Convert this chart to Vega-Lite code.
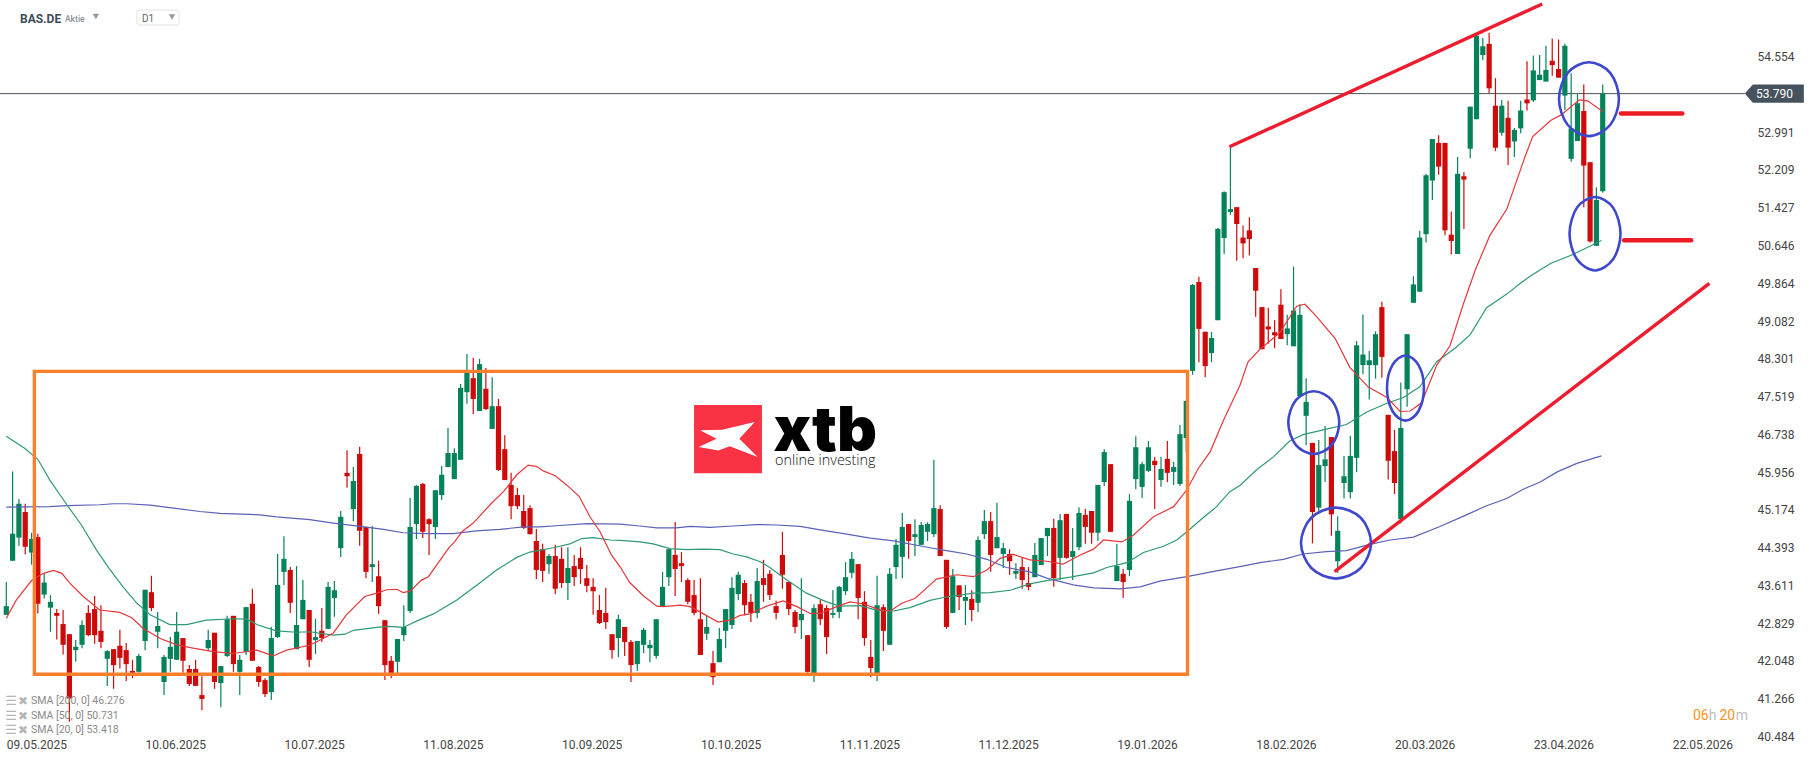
{
  "$schema": "https://vega.github.io/schema/vega-lite/v6.json",
  "description": "BAS.DE daily candles with SMA 20/50/200 and drawn annotations",
  "width": 1816,
  "height": 761,
  "padding": 0,
  "autosize": "none",
  "background": "white",
  "config": {"view": {"stroke": null}, "font": "Roboto"},
  "datasets": {
    "candles": [
      {"bar":0,"open":43.00,"high":43.68,"low":43.00,"close":43.18},
      {"bar":1,"open":44.12,"high":45.97,"low":44.12,"close":44.68},
      {"bar":2,"open":44.60,"high":45.40,"low":44.43,"close":45.30},
      {"bar":3,"open":45.13,"high":45.30,"low":44.25,"close":44.41},
      {"bar":4,"open":44.29,"high":44.70,"low":44.04,"close":44.57},
      {"bar":5,"open":44.61,"high":44.68,"low":43.03,"close":43.23},
      {"bar":6,"open":43.42,"high":43.85,"low":43.34,"close":43.67},
      {"bar":7,"open":43.15,"high":43.41,"low":42.65,"close":43.27},
      {"bar":8,"open":43.04,"high":43.12,"low":42.49,"close":42.98},
      {"bar":9,"open":42.81,"high":43.10,"low":42.18,"close":42.38},
      {"bar":10,"open":42.60,"high":42.60,"low":40.79,"close":41.27},
      {"bar":11,"open":42.27,"high":42.48,"low":42.03,"close":42.34},
      {"bar":12,"open":42.38,"high":42.89,"low":42.31,"close":42.79},
      {"bar":13,"open":43.04,"high":43.20,"low":42.56,"close":42.58},
      {"bar":14,"open":43.12,"high":43.39,"low":42.40,"close":42.58},
      {"bar":15,"open":42.67,"high":43.20,"low":42.31,"close":42.44},
      {"bar":16,"open":42.09,"high":42.27,"low":41.53,"close":42.25},
      {"bar":17,"open":42.29,"high":42.29,"low":41.47,"close":41.96},
      {"bar":18,"open":42.36,"high":42.69,"low":41.89,"close":42.11},
      {"bar":19,"open":42.27,"high":42.42,"low":41.63,"close":41.98},
      {"bar":20,"open":41.84,"high":42.07,"low":41.69,"close":41.80},
      {"bar":21,"open":41.82,"high":42.19,"low":41.80,"close":42.15},
      {"bar":22,"open":42.46,"high":43.52,"low":42.27,"close":43.52},
      {"bar":23,"open":43.47,"high":43.81,"low":43.08,"close":43.14},
      {"bar":24,"open":42.65,"high":43.06,"low":42.31,"close":42.77},
      {"bar":25,"open":41.61,"high":42.17,"low":41.34,"close":42.13},
      {"bar":26,"open":42.09,"high":42.54,"low":41.82,"close":42.34},
      {"bar":27,"open":42.07,"high":43.06,"low":42.07,"close":42.65},
      {"bar":28,"open":42.52,"high":42.52,"low":41.80,"close":42.05},
      {"bar":29,"open":41.88,"high":41.96,"low":41.53,"close":41.57},
      {"bar":30,"open":41.88,"high":42.07,"low":41.53,"close":41.53},
      {"bar":31,"open":41.34,"high":41.73,"low":41.03,"close":41.26},
      {"bar":32,"open":42.31,"high":42.69,"low":42.25,"close":42.48},
      {"bar":33,"open":42.63,"high":42.63,"low":41.47,"close":41.61},
      {"bar":34,"open":41.59,"high":41.94,"low":41.09,"close":41.94},
      {"bar":35,"open":42.15,"high":42.98,"low":42.13,"close":42.91},
      {"bar":36,"open":42.98,"high":42.98,"low":41.82,"close":41.98},
      {"bar":37,"open":41.82,"high":42.17,"low":41.34,"close":42.07},
      {"bar":38,"open":42.23,"high":43.16,"low":42.17,"close":43.16},
      {"bar":39,"open":43.23,"high":43.54,"low":42.05,"close":42.05},
      {"bar":40,"open":41.92,"high":41.94,"low":41.51,"close":41.61},
      {"bar":41,"open":41.65,"high":41.69,"low":41.30,"close":41.36},
      {"bar":42,"open":41.40,"high":42.75,"low":41.24,"close":42.52},
      {"bar":43,"open":42.54,"high":44.26,"low":42.52,"close":43.62},
      {"bar":44,"open":43.89,"high":44.63,"low":43.62,"close":44.16},
      {"bar":45,"open":43.93,"high":43.99,"low":43.04,"close":43.25},
      {"bar":46,"open":42.29,"high":44.01,"low":42.29,"close":42.79},
      {"bar":47,"open":42.91,"high":43.72,"low":42.91,"close":43.31},
      {"bar":48,"open":43.10,"high":43.10,"low":41.92,"close":42.07},
      {"bar":49,"open":42.48,"high":42.92,"low":42.19,"close":42.54},
      {"bar":50,"open":42.67,"high":43.14,"low":42.44,"close":42.52},
      {"bar":51,"open":42.71,"high":43.68,"low":42.71,"close":43.58},
      {"bar":52,"open":43.35,"high":43.70,"low":42.96,"close":43.51},
      {"bar":53,"open":44.38,"high":45.15,"low":44.20,"close":45.03},
      {"bar":54,"open":45.94,"high":46.41,"low":45.63,"close":45.87},
      {"bar":55,"open":45.19,"high":46.06,"low":44.94,"close":45.77},
      {"bar":56,"open":46.33,"high":46.48,"low":44.43,"close":44.74},
      {"bar":57,"open":44.82,"high":44.82,"low":43.76,"close":43.89},
      {"bar":58,"open":43.99,"high":44.84,"low":43.68,"close":44.05},
      {"bar":59,"open":43.80,"high":44.12,"low":43.02,"close":43.18},
      {"bar":60,"open":42.89,"high":42.89,"low":41.65,"close":41.96},
      {"bar":61,"open":42.05,"high":42.15,"low":41.69,"close":41.78},
      {"bar":62,"open":42.03,"high":42.50,"low":41.79,"close":42.50},
      {"bar":63,"open":42.58,"high":43.20,"low":42.46,"close":42.75},
      {"bar":64,"open":43.08,"high":45.42,"low":43.04,"close":44.82},
      {"bar":65,"open":44.88,"high":45.69,"low":44.57,"close":45.67},
      {"bar":66,"open":45.71,"high":45.73,"low":44.59,"close":44.72},
      {"bar":67,"open":44.98,"high":45.00,"low":44.24,"close":44.88},
      {"bar":68,"open":44.82,"high":45.58,"low":44.57,"close":45.58},
      {"bar":69,"open":45.48,"high":46.08,"low":45.38,"close":45.90},
      {"bar":70,"open":46.06,"high":46.87,"low":46.06,"close":46.35},
      {"bar":71,"open":45.81,"high":46.45,"low":45.81,"close":46.35},
      {"bar":72,"open":46.21,"high":47.78,"low":46.21,"close":47.70},
      {"bar":73,"open":47.61,"high":48.40,"low":47.37,"close":48.02},
      {"bar":74,"open":47.90,"high":48.32,"low":47.16,"close":47.47},
      {"bar":75,"open":47.22,"high":48.30,"low":47.22,"close":48.19},
      {"bar":76,"open":47.68,"high":48.11,"low":47.24,"close":47.26},
      {"bar":77,"open":46.85,"high":47.92,"low":46.85,"close":47.32},
      {"bar":78,"open":47.32,"high":47.47,"low":45.98,"close":46.00},
      {"bar":79,"open":46.43,"high":46.72,"low":45.79,"close":45.79},
      {"bar":80,"open":45.69,"high":45.94,"low":44.98,"close":45.25},
      {"bar":81,"open":45.48,"high":45.63,"low":45.19,"close":45.25},
      {"bar":82,"open":45.15,"high":45.48,"low":44.78,"close":44.80},
      {"bar":83,"open":45.21,"high":45.27,"low":44.67,"close":44.67},
      {"bar":84,"open":44.53,"high":44.78,"low":43.74,"close":43.93},
      {"bar":85,"open":44.36,"high":44.47,"low":43.68,"close":43.91},
      {"bar":86,"open":44.05,"high":44.26,"low":43.85,"close":44.22},
      {"bar":87,"open":44.22,"high":44.45,"low":43.43,"close":43.54},
      {"bar":88,"open":44.16,"high":44.40,"low":43.56,"close":43.66},
      {"bar":89,"open":43.66,"high":44.40,"low":43.31,"close":43.97},
      {"bar":90,"open":44.01,"high":44.24,"low":43.60,"close":43.78},
      {"bar":91,"open":44.18,"high":44.40,"low":43.64,"close":43.95},
      {"bar":92,"open":43.76,"high":44.03,"low":43.47,"close":43.60},
      {"bar":93,"open":43.58,"high":43.76,"low":43.00,"close":43.49},
      {"bar":94,"open":43.10,"high":43.41,"low":42.81,"close":42.83},
      {"bar":95,"open":43.04,"high":43.56,"low":42.71,"close":42.85},
      {"bar":96,"open":42.60,"high":42.60,"low":42.09,"close":42.27},
      {"bar":97,"open":42.52,"high":43.00,"low":42.13,"close":42.91},
      {"bar":98,"open":42.75,"high":42.75,"low":42.15,"close":42.44},
      {"bar":99,"open":42.44,"high":42.48,"low":41.61,"close":41.96},
      {"bar":100,"open":41.98,"high":42.46,"low":41.84,"close":42.46},
      {"bar":101,"open":42.38,"high":42.73,"low":42.21,"close":42.69},
      {"bar":102,"open":42.31,"high":42.48,"low":42.02,"close":42.38},
      {"bar":103,"open":42.15,"high":42.91,"low":42.09,"close":42.91},
      {"bar":104,"open":43.18,"high":43.89,"low":43.18,"close":43.58},
      {"bar":105,"open":43.78,"high":44.36,"low":43.60,"close":44.36},
      {"bar":106,"open":44.24,"high":44.92,"low":43.39,"close":43.95},
      {"bar":107,"open":44.07,"high":44.30,"low":43.68,"close":44.01},
      {"bar":108,"open":43.72,"high":43.76,"low":43.22,"close":43.27},
      {"bar":109,"open":43.41,"high":43.72,"low":42.99,"close":43.04},
      {"bar":110,"open":42.91,"high":43.76,"low":42.17,"close":42.17},
      {"bar":111,"open":42.61,"high":42.99,"low":42.48,"close":42.75},
      {"bar":112,"open":42.00,"high":42.25,"low":41.55,"close":41.71},
      {"bar":113,"open":42.02,"high":42.73,"low":42.02,"close":42.50},
      {"bar":114,"open":42.67,"high":43.12,"low":42.31,"close":43.12},
      {"bar":115,"open":42.79,"high":43.78,"low":42.71,"close":43.56},
      {"bar":116,"open":43.43,"high":43.89,"low":43.31,"close":43.83},
      {"bar":117,"open":43.66,"high":43.72,"low":42.99,"close":43.20},
      {"bar":118,"open":43.27,"high":43.43,"low":42.85,"close":43.04},
      {"bar":119,"open":43.04,"high":43.97,"low":42.93,"close":43.70},
      {"bar":120,"open":43.76,"high":44.14,"low":43.27,"close":43.62},
      {"bar":121,"open":43.85,"high":43.93,"low":43.31,"close":43.41},
      {"bar":122,"open":43.18,"high":43.29,"low":42.91,"close":43.04},
      {"bar":123,"open":44.24,"high":44.72,"low":43.54,"close":43.83},
      {"bar":124,"open":43.68,"high":43.68,"low":42.99,"close":43.12},
      {"bar":125,"open":43.06,"high":43.10,"low":42.62,"close":42.75},
      {"bar":126,"open":42.89,"high":43.76,"low":42.50,"close":43.02},
      {"bar":127,"open":42.58,"high":42.58,"low":41.80,"close":41.82},
      {"bar":128,"open":41.79,"high":43.22,"low":41.61,"close":43.14},
      {"bar":129,"open":43.22,"high":43.31,"low":42.79,"close":42.91},
      {"bar":130,"open":43.14,"high":43.20,"low":42.19,"close":42.54},
      {"bar":131,"open":43.00,"high":43.51,"low":42.93,"close":43.04},
      {"bar":132,"open":43.06,"high":43.60,"low":42.93,"close":43.58},
      {"bar":133,"open":43.49,"high":44.09,"low":43.41,"close":43.78},
      {"bar":134,"open":43.87,"high":44.30,"low":43.76,"close":44.16},
      {"bar":135,"open":44.05,"high":44.05,"low":42.91,"close":43.35},
      {"bar":136,"open":43.27,"high":43.49,"low":42.36,"close":42.52},
      {"bar":137,"open":42.13,"high":42.48,"low":41.71,"close":41.90},
      {"bar":138,"open":41.79,"high":43.81,"low":41.63,"close":43.20},
      {"bar":139,"open":43.16,"high":43.22,"low":42.25,"close":42.67},
      {"bar":140,"open":42.38,"high":43.97,"low":42.38,"close":43.85},
      {"bar":141,"open":43.99,"high":44.57,"low":43.74,"close":44.45},
      {"bar":142,"open":44.20,"high":45.11,"low":43.76,"close":44.82},
      {"bar":143,"open":44.88,"high":44.88,"low":44.16,"close":44.53},
      {"bar":144,"open":44.61,"high":44.98,"low":44.22,"close":44.67},
      {"bar":145,"open":44.45,"high":44.92,"low":44.45,"close":44.86},
      {"bar":146,"open":44.72,"high":44.92,"low":44.53,"close":44.88},
      {"bar":147,"open":44.67,"high":46.21,"low":44.61,"close":45.21},
      {"bar":148,"open":45.19,"high":45.27,"low":44.22,"close":44.22},
      {"bar":149,"open":44.14,"high":44.14,"low":42.71,"close":42.75},
      {"bar":150,"open":43.04,"high":43.95,"low":43.04,"close":43.80},
      {"bar":151,"open":43.61,"high":43.61,"low":43.10,"close":43.37},
      {"bar":152,"open":43.29,"high":43.62,"low":42.79,"close":43.37},
      {"bar":153,"open":43.33,"high":43.51,"low":42.87,"close":43.10},
      {"bar":154,"open":43.25,"high":44.63,"low":43.06,"close":44.55},
      {"bar":155,"open":44.67,"high":45.17,"low":44.57,"close":44.94},
      {"bar":156,"open":44.94,"high":45.13,"low":43.89,"close":44.24},
      {"bar":157,"open":44.38,"high":45.32,"low":44.38,"close":44.61},
      {"bar":158,"open":44.26,"high":44.49,"low":43.97,"close":44.38},
      {"bar":159,"open":44.26,"high":44.36,"low":43.83,"close":44.11},
      {"bar":160,"open":43.85,"high":44.07,"low":43.74,"close":43.91},
      {"bar":161,"open":43.99,"high":44.18,"low":43.54,"close":43.72},
      {"bar":162,"open":43.66,"high":43.99,"low":43.51,"close":43.58},
      {"bar":163,"open":43.78,"high":44.49,"low":43.78,"close":44.24},
      {"bar":164,"open":44.03,"high":44.59,"low":44.03,"close":44.59},
      {"bar":165,"open":44.63,"high":44.80,"low":44.22,"close":44.80},
      {"bar":166,"open":44.80,"high":44.99,"low":43.58,"close":43.76},
      {"bar":167,"open":44.18,"high":45.09,"low":43.72,"close":44.96},
      {"bar":168,"open":45.09,"high":45.09,"low":44.16,"close":44.18},
      {"bar":169,"open":44.20,"high":44.80,"low":43.72,"close":44.32},
      {"bar":170,"open":44.40,"high":45.23,"low":44.34,"close":45.11},
      {"bar":171,"open":45.07,"high":45.19,"low":44.47,"close":44.82},
      {"bar":172,"open":45.15,"high":45.15,"low":44.47,"close":44.70},
      {"bar":173,"open":44.70,"high":45.69,"low":44.53,"close":45.69},
      {"bar":174,"open":45.75,"high":46.43,"low":45.67,"close":46.37},
      {"bar":175,"open":46.12,"high":46.12,"low":44.72,"close":44.72},
      {"bar":176,"open":43.70,"high":44.47,"low":43.70,"close":44.01},
      {"bar":177,"open":43.85,"high":43.95,"low":43.35,"close":43.68},
      {"bar":178,"open":43.93,"high":45.50,"low":43.80,"close":45.36},
      {"bar":179,"open":45.81,"high":46.70,"low":45.60,"close":46.47},
      {"bar":180,"open":45.65,"high":46.17,"low":45.42,"close":46.12},
      {"bar":181,"open":45.98,"high":46.60,"low":45.96,"close":46.47},
      {"bar":182,"open":46.19,"high":46.27,"low":45.19,"close":46.10},
      {"bar":183,"open":45.79,"high":46.27,"low":45.65,"close":46.02},
      {"bar":184,"open":46.23,"high":46.60,"low":45.75,"close":45.94},
      {"bar":185,"open":45.96,"high":46.17,"low":45.69,"close":46.06},
      {"bar":186,"open":45.71,"high":46.93,"low":45.67,"close":46.74},
      {"bar":187,"open":46.66,"high":47.43,"low":46.37,"close":47.43},
      {"bar":188,"open":48.05,"high":49.85,"low":47.97,"close":49.83},
      {"bar":189,"open":49.89,"high":50.00,"low":48.23,"close":48.92},
      {"bar":190,"open":48.86,"high":48.86,"low":47.92,"close":48.15},
      {"bar":191,"open":48.42,"high":48.86,"low":48.23,"close":48.73},
      {"bar":192,"open":49.10,"high":51.01,"low":49.10,"close":50.99},
      {"bar":193,"open":50.80,"high":51.77,"low":50.47,"close":51.75},
      {"bar":194,"open":51.34,"high":52.69,"low":51.28,"close":51.40},
      {"bar":195,"open":51.44,"high":51.44,"low":50.33,"close":51.09},
      {"bar":196,"open":50.81,"high":51.06,"low":50.38,"close":50.69},
      {"bar":197,"open":50.96,"high":51.23,"low":50.44,"close":50.78},
      {"bar":198,"open":50.18,"high":50.18,"low":49.17,"close":49.71},
      {"bar":199,"open":49.37,"high":49.37,"low":48.50,"close":48.50},
      {"bar":200,"open":48.97,"high":49.36,"low":48.61,"close":48.91},
      {"bar":201,"open":48.85,"high":49.10,"low":48.52,"close":48.79},
      {"bar":202,"open":49.42,"high":49.74,"low":48.71,"close":48.71},
      {"bar":203,"open":48.81,"high":49.21,"low":48.58,"close":48.93},
      {"bar":204,"open":48.56,"high":50.21,"low":48.56,"close":49.30},
      {"bar":205,"open":47.53,"high":49.43,"low":47.53,"close":49.21},
      {"bar":206,"open":47.12,"high":47.90,"low":46.51,"close":47.41},
      {"bar":207,"open":46.56,"high":46.56,"low":44.48,"close":45.13},
      {"bar":208,"open":45.22,"high":46.62,"low":45.11,"close":46.10},
      {"bar":209,"open":46.08,"high":46.91,"low":45.75,"close":46.22},
      {"bar":210,"open":46.68,"high":46.68,"low":44.64,"close":45.08},
      {"bar":211,"open":44.11,"high":45.04,"low":43.87,"close":44.74},
      {"bar":212,"open":45.73,"high":46.29,"low":45.41,"close":45.87},
      {"bar":213,"open":45.54,"high":46.71,"low":45.41,"close":46.29},
      {"bar":214,"open":46.25,"high":48.67,"low":45.95,"close":48.58},
      {"bar":215,"open":48.17,"high":49.22,"low":47.98,"close":48.39},
      {"bar":216,"open":48.17,"high":48.46,"low":47.46,"close":48.27},
      {"bar":217,"open":48.17,"high":48.87,"low":47.89,"close":48.81},
      {"bar":218,"open":49.37,"high":49.48,"low":47.91,"close":48.34},
      {"bar":219,"open":47.14,"high":47.14,"low":45.80,"close":46.19},
      {"bar":220,"open":46.39,"high":46.83,"low":45.50,"close":45.73},
      {"bar":221,"open":44.98,"high":47.81,"low":44.89,"close":46.87},
      {"bar":222,"open":47.67,"high":48.81,"low":47.31,"close":48.81},
      {"bar":223,"open":49.46,"high":50.01,"low":49.46,"close":49.84},
      {"bar":224,"open":49.69,"high":50.95,"low":49.69,"close":50.81},
      {"bar":225,"open":50.88,"high":52.13,"low":50.71,"close":52.10},
      {"bar":226,"open":51.99,"high":52.85,"low":51.59,"close":52.85},
      {"bar":227,"open":52.77,"high":52.93,"low":52.11,"close":52.28},
      {"bar":228,"open":52.77,"high":52.77,"low":50.86,"close":50.96},
      {"bar":229,"open":50.87,"high":51.35,"low":50.46,"close":50.74},
      {"bar":230,"open":50.47,"high":52.48,"low":50.47,"close":52.13},
      {"bar":231,"open":52.08,"high":52.16,"low":50.99,"close":52.01},
      {"bar":232,"open":52.65,"high":53.52,"low":52.45,"close":53.52},
      {"bar":233,"open":53.26,"high":55.03,"low":53.26,"close":54.99},
      {"bar":234,"open":54.59,"high":54.94,"low":54.48,"close":54.77},
      {"bar":235,"open":54.82,"high":55.05,"low":53.80,"close":53.90},
      {"bar":236,"open":53.54,"high":54.11,"low":52.60,"close":52.67},
      {"bar":237,"open":52.98,"high":53.66,"low":52.92,"close":53.54},
      {"bar":238,"open":53.29,"high":53.64,"low":52.31,"close":52.67},
      {"bar":239,"open":52.80,"high":53.08,"low":52.48,"close":53.04},
      {"bar":240,"open":53.07,"high":53.64,"low":52.97,"close":53.44},
      {"bar":241,"open":53.67,"high":54.46,"low":53.44,"close":53.59},
      {"bar":242,"open":53.65,"high":54.58,"low":53.62,"close":54.27},
      {"bar":243,"open":54.07,"high":54.59,"low":54.07,"close":54.18},
      {"bar":244,"open":54.04,"high":54.78,"low":54.04,"close":54.28},
      {"bar":245,"open":54.47,"high":54.93,"low":54.16,"close":54.38},
      {"bar":246,"open":54.30,"high":54.91,"low":54.12,"close":54.12},
      {"bar":247,"open":53.75,"high":54.82,"low":53.45,"close":54.78},
      {"bar":248,"open":52.44,"high":54.21,"low":52.38,"close":53.07},
      {"bar":249,"open":52.81,"high":53.78,"low":52.81,"close":53.59},
      {"bar":250,"open":53.43,"high":53.98,"low":51.44,"close":52.30},
      {"bar":251,"open":52.37,"high":52.37,"low":50.71,"close":50.73},
      {"bar":252,"open":50.64,"high":51.85,"low":50.64,"close":51.59},
      {"bar":253,"open":51.77,"high":53.98,"low":51.74,"close":53.79}
    ],
    "sma200": [
      {"bar":0,"price":45.23},{"bar":6.9,"price":45.24},{"bar":9.6,"price":45.26},{"bar":14.8,"price":45.28},{"bar":17,"price":45.30},{"bar":19.1,"price":45.30},{"bar":22.8,"price":45.27},{"bar":25.9,"price":45.22},{"bar":30.7,"price":45.14},{"bar":33.9,"price":45.10},{"bar":40.2,"price":45.07},{"bar":42.8,"price":45.03},{"bar":48.1,"price":44.97},
      {"bar":51.8,"price":44.90},{"bar":56.1,"price":44.83},{"bar":59.8,"price":44.77},{"bar":62.9,"price":44.70},{"bar":66.6,"price":44.68},{"bar":70.8,"price":44.68},{"bar":74.5,"price":44.74},{"bar":78.2,"price":44.77},{"bar":81.9,"price":44.82},{"bar":84.6,"price":44.82},{"bar":87.7,"price":44.85},{"bar":92,"price":44.89},{"bar":97.3,"price":44.88},
      {"bar":100.4,"price":44.84},{"bar":103.1,"price":44.80},{"bar":106.2,"price":44.80},{"bar":108.4,"price":44.83},{"bar":111.5,"price":44.81},{"bar":115.2,"price":44.84},{"bar":118.9,"price":44.87},{"bar":122.1,"price":44.86},{"bar":125.8,"price":44.83},{"bar":129,"price":44.76},{"bar":133.2,"price":44.67},{"bar":136.9,"price":44.59},{"bar":140.6,"price":44.53},{"bar":146.4,"price":44.39},
      {"bar":149,"price":44.33},{"bar":152.2,"price":44.26},{"bar":155.4,"price":44.15},{"bar":158.5,"price":43.98},{"bar":162.2,"price":43.89},{"bar":164.9,"price":43.76},{"bar":169.1,"price":43.62},{"bar":172.3,"price":43.56},{"bar":176.5,"price":43.54},{"bar":179.7,"price":43.58},{"bar":182.8,"price":43.70},{"bar":187.1,"price":43.79},{"bar":191.8,"price":43.91},{"bar":195.5,"price":44.00},
      {"bar":198.7,"price":44.08},{"bar":202.4,"price":44.15},{"bar":205.5,"price":44.26},{"bar":209.2,"price":44.31},{"bar":212.4,"price":44.33},{"bar":216.1,"price":44.46},{"bar":219.3,"price":44.55},{"bar":223,"price":44.61},{"bar":227.2,"price":44.83},{"bar":231.4,"price":45.07},{"bar":234.6,"price":45.26},{"bar":237.8,"price":45.41},{"bar":240.4,"price":45.60},{"bar":243.1,"price":45.75},{"bar":245.8,"price":45.96},{"bar":249,"price":46.14},{"bar":252.8,"price":46.29}
    ],
    "sma50": [
      {"bar":0,"price":46.70},{"bar":2.9,"price":46.45},{"bar":5,"price":46.22},{"bar":6.9,"price":45.79},{"bar":9.6,"price":45.28},{"bar":11.9,"price":44.86},{"bar":14.3,"price":44.34},{"bar":16.4,"price":43.94},{"bar":18.5,"price":43.58},{"bar":20.7,"price":43.24},{"bar":22.8,"price":43.00},{"bar":25.9,"price":42.80},{"bar":28.6,"price":42.80},{"bar":31.7,"price":42.89},{"bar":36,"price":42.92},{"bar":38.1,"price":42.91},{"bar":39.9,"price":42.79},{"bar":42.8,"price":42.67},{"bar":46,"price":42.64},{"bar":48.1,"price":42.65},
      {"bar":51.8,"price":42.58},{"bar":53.7,"price":42.60},{"bar":55,"price":42.68},{"bar":58.7,"price":42.74},{"bar":60.8,"price":42.76},{"bar":62.9,"price":42.74},{"bar":65,"price":42.87},{"bar":67.7,"price":43.02},{"bar":71.4,"price":43.31},{"bar":74.5,"price":43.61},{"bar":77.7,"price":43.93},{"bar":80.9,"price":44.19},{"bar":83,"price":44.30},{"bar":86.7,"price":44.39},{"bar":89.3,"price":44.47},{"bar":91.2,"price":44.58},{"bar":93,"price":44.60},{"bar":95.7,"price":44.55},{"bar":97.3,"price":44.54},
      {"bar":100.4,"price":44.51},{"bar":102.5,"price":44.47},{"bar":105.2,"price":44.37},{"bar":107.8,"price":44.35},{"bar":110.5,"price":44.36},{"bar":113.1,"price":44.35},{"bar":115.2,"price":44.26},{"bar":117.3,"price":44.20},{"bar":119.5,"price":44.10},{"bar":121,"price":43.98},{"bar":123.7,"price":43.72},{"bar":126.8,"price":43.45},{"bar":130,"price":43.27},{"bar":132.1,"price":43.18},{"bar":135.3,"price":43.19},{"bar":137.9,"price":43.10},{"bar":140.6,"price":43.08},{"bar":143.2,"price":43.15},{"bar":146.4,"price":43.30},
      {"bar":148.5,"price":43.36},{"bar":153.3,"price":43.45},{"bar":155.9,"price":43.46},{"bar":159.1,"price":43.51},{"bar":162.2,"price":43.64},{"bar":164.9,"price":43.71},{"bar":168.6,"price":43.78},{"bar":172.3,"price":43.87},{"bar":174.4,"price":43.98},{"bar":177.6,"price":44.08},{"bar":180.2,"price":44.29},{"bar":183.4,"price":44.42},{"bar":185.5,"price":44.55},{"bar":187.1,"price":44.72},{"bar":189.2,"price":44.96},{"bar":191.8,"price":45.24},{"bar":193.9,"price":45.55},{"bar":195.5,"price":45.68},
      {"bar":198.2,"price":46.01},{"bar":200.8,"price":46.27},{"bar":203.4,"price":46.60},{"bar":205.5,"price":46.73},{"bar":208.7,"price":46.83},{"bar":212.4,"price":46.94},{"bar":215.6,"price":47.20},{"bar":218.8,"price":47.38},{"bar":221.4,"price":47.50},{"bar":224,"price":47.72},{"bar":226.7,"price":48.24},{"bar":229.8,"price":48.54},{"bar":232,"price":48.80},{"bar":234.6,"price":49.36},{"bar":237.8,"price":49.64},{"bar":239.9,"price":49.86},{"bar":241.6,"price":50.02},{"bar":244.8,"price":50.28},{"bar":248.1,"price":50.45},{"bar":250.3,"price":50.59},{"bar":252.8,"price":50.75}
    ],
    "sma20": [
      {"bar":0,"price":42.93},{"bar":1.6,"price":43.31},{"bar":4,"price":43.71},{"bar":5.9,"price":43.86},{"bar":7.5,"price":43.92},{"bar":8.8,"price":43.86},{"bar":10.1,"price":43.65},{"bar":12.2,"price":43.38},{"bar":14.8,"price":43.10},{"bar":18,"price":43.05},{"bar":19.9,"price":42.94},{"bar":21.7,"price":42.72},{"bar":24.4,"price":42.51},{"bar":27,"price":42.38},{"bar":29.6,"price":42.31},{"bar":32.8,"price":42.24},{"bar":36,"price":42.20},{"bar":39.7,"price":42.27},{"bar":42.3,"price":42.15},{"bar":44.4,"price":42.27},{"bar":48.1,"price":42.37},
      {"bar":50.2,"price":42.51},{"bar":51.8,"price":42.62},{"bar":53.9,"price":43.00},{"bar":56.8,"price":43.38},{"bar":58.7,"price":43.45},{"bar":60.3,"price":43.52},{"bar":61.9,"price":43.53},{"bar":62.9,"price":43.46},{"bar":64,"price":43.49},{"bar":65.8,"price":43.72},{"bar":66.9,"price":43.79},{"bar":70.1,"price":44.38},{"bar":71.1,"price":44.52},{"bar":72.2,"price":44.72},{"bar":74,"price":44.90},{"bar":76.9,"price":45.31},{"bar":78.8,"price":45.55},{"bar":80.9,"price":45.90},{"bar":82.7,"price":46.10},{"bar":84.1,"price":46.07},{"bar":85.1,"price":45.98},{"bar":87,"price":45.88},{"bar":88.8,"price":45.69},{"bar":90.8,"price":45.45},{"bar":92.5,"price":45.03},{"bar":94.1,"price":44.72},{"bar":95.9,"price":44.24},{"bar":97.3,"price":43.99},
      {"bar":98.8,"price":43.67},{"bar":101,"price":43.39},{"bar":103.1,"price":43.18},{"bar":104.1,"price":43.17},{"bar":106.8,"price":43.20},{"bar":108.4,"price":43.17},{"bar":110.5,"price":43.02},{"bar":112.8,"price":42.85},{"bar":114.7,"price":42.89},{"bar":116.3,"price":42.99},{"bar":117.9,"price":43.02},{"bar":120.5,"price":43.18},{"bar":123.1,"price":43.29},{"bar":125.3,"price":43.17},{"bar":127.4,"price":43.03},{"bar":129,"price":43.03},{"bar":131.6,"price":43.17},{"bar":133.7,"price":43.27},{"bar":135.8,"price":43.23},{"bar":138.5,"price":43.10},{"bar":140.1,"price":43.08},{"bar":141.9,"price":43.24},{"bar":144,"price":43.34},{"bar":146.4,"price":43.62},
      {"bar":147.4,"price":43.74},{"bar":150.6,"price":43.83},{"bar":153.3,"price":43.79},{"bar":155.4,"price":43.93},{"bar":157.5,"price":44.17},{"bar":159.6,"price":44.25},{"bar":162.2,"price":44.14},{"bar":164.9,"price":44.11},{"bar":167.5,"price":44.05},{"bar":170.2,"price":44.24},{"bar":172.3,"price":44.36},{"bar":173.9,"price":44.55},{"bar":176.8,"price":44.51},{"bar":178.6,"price":44.65},{"bar":181.8,"price":45.03},{"bar":185,"price":45.24},{"bar":187.1,"price":45.59},{"bar":188.9,"price":46.03},{"bar":190.8,"price":46.38},{"bar":192.9,"price":47.03},{"bar":195.5,"price":47.75},
      {"bar":196.8,"price":48.24},{"bar":198.7,"price":48.50},{"bar":201.8,"price":48.84},{"bar":204.5,"price":49.39},{"bar":205.8,"price":49.43},{"bar":207.7,"price":49.17},{"bar":210.6,"price":48.72},{"bar":212.9,"price":48.13},{"bar":215.8,"price":47.72},{"bar":218.8,"price":47.50},{"bar":220.9,"price":47.21},{"bar":222.5,"price":47.22},{"bar":224.3,"price":47.39},{"bar":226.7,"price":48.17},{"bar":228.8,"price":48.57},{"bar":230.9,"price":49.43},{"bar":232.8,"price":50.14},{"bar":235.1,"price":50.85},{"bar":237.8,"price":51.40},{"bar":240.7,"price":52.49},{"bar":241.9,"price":52.90},{"bar":244.8,"price":53.24},{"bar":246.4,"price":53.35},{"bar":249.3,"price":53.66},{"bar":250.6,"price":53.64},{"bar":253,"price":53.42}
    ],
    "ellipses": [
      {"id":"a","step":0,"bar":255.57,"price":53.68},{"id":"a","step":1,"bar":254.18,"price":54.22},{"id":"a","step":2,"bar":250.82,"price":54.44},{"id":"a","step":3,"bar":247.46,"price":54.22},{"id":"a","step":4,"bar":246.07,"price":53.68},{"id":"a","step":5,"bar":247.46,"price":53.14},{"id":"a","step":6,"bar":250.82,"price":52.91},{"id":"a","step":7,"bar":254.18,"price":53.14},
      {"id":"b","step":0,"bar":255.82,"price":50.89},{"id":"b","step":1,"bar":254.64,"price":51.43},{"id":"b","step":2,"bar":251.78,"price":51.65},{"id":"b","step":3,"bar":248.92,"price":51.43},{"id":"b","step":4,"bar":247.74,"price":50.89},{"id":"b","step":5,"bar":248.92,"price":50.36},{"id":"b","step":6,"bar":251.78,"price":50.13},{"id":"b","step":7,"bar":254.64,"price":50.36},
      {"id":"c","step":0,"bar":224.67,"price":47.70},{"id":"c","step":1,"bar":223.81,"price":48.17},{"id":"c","step":2,"bar":221.74,"price":48.37},{"id":"c","step":3,"bar":219.67,"price":48.17},{"id":"c","step":4,"bar":218.81,"price":47.70},{"id":"c","step":5,"bar":219.67,"price":47.22},{"id":"c","step":6,"bar":221.74,"price":47.02},{"id":"c","step":7,"bar":223.81,"price":47.22},
      {"id":"d","step":0,"bar":211.25,"price":46.98},{"id":"d","step":1,"bar":210.07,"price":47.44},{"id":"d","step":2,"bar":207.21,"price":47.63},{"id":"d","step":3,"bar":204.35,"price":47.44},{"id":"d","step":4,"bar":203.17,"price":46.98},{"id":"d","step":5,"bar":204.35,"price":46.52},{"id":"d","step":6,"bar":207.21,"price":46.33},{"id":"d","step":7,"bar":210.07,"price":46.52},
      {"id":"e","step":0,"bar":216.28,"price":44.49},{"id":"e","step":1,"bar":214.65,"price":45.01},{"id":"e","step":2,"bar":210.73,"price":45.22},{"id":"e","step":3,"bar":206.81,"price":45.01},{"id":"e","step":4,"bar":205.18,"price":44.49},{"id":"e","step":5,"bar":206.81,"price":43.97},{"id":"e","step":6,"bar":210.73,"price":43.75},{"id":"e","step":7,"bar":214.65,"price":43.97}
    ]
  },
  "encoding": {
    "x": {"field": "bar", "type": "quantitative", "title": null,
      "scale": {"domain": [-0.998, 286.8], "nice": false, "zero": false},
      "axis": {"orient": "bottom", "offset": -17, "values": [0,22,44,66,88,110,132,154,176,198,220,242,264],
        "labelExpr": "['09.05.2025','10.06.2025','10.07.2025','11.08.2025','10.09.2025','10.10.2025','11.11.2025','11.12.2025','19.01.2026','18.02.2026','20.03.2026','23.04.2026','22.05.2026'][datum.value/22]",
        "labelAlign": "left", "labelBaseline": "middle", "labelPadding": 0, "labelFontSize": 12, "labelColor": "#444444", "labelFont": "Roboto",
        "labelOverlap": false, "labelBound": false, "labelFlush": false, "ticks": false, "domain": false, "grid": false}},
    "y": {"field": "price", "type": "quantitative", "title": null,
      "scale": {"domain": [39.975, 55.728], "nice": false, "zero": false},
      "axis": {"orient": "right", "offset": -59, "values": [54.554,52.991,52.209,51.427,50.646,49.864,49.082,48.301,47.519,46.738,45.956,45.174,44.393,43.611,42.829,42.048,41.266,40.484],
        "format": ".3f", "labelAlign": "left", "labelPadding": 0, "labelFontSize": 12, "labelColor": "#444444", "labelFont": "Roboto",
        "labelOverlap": false, "labelBound": false, "labelFlush": false, "ticks": false, "domain": false, "grid": false}}
  },
  "layer": [
    {
      "data": {"values": [{"bar": -1, "bar2": 275.5, "price": 53.79}]},
      "mark": {"type": "rule", "color": "#46535e", "strokeWidth": 1},
      "encoding": {"x2": {"field": "bar2"}}
    },
    {
      "data": {"name": "candles"},
      "mark": {"type": "rule", "strokeWidth": 1.2},
      "encoding": {
        "y": {"field": "low", "type": "quantitative", "title": null, "scale": {"domain": [39.975, 55.728], "nice": false, "zero": false},
          "axis": {"orient": "right", "offset": -59, "values": [54.554,52.991,52.209,51.427,50.646,49.864,49.082,48.301,47.519,46.738,45.956,45.174,44.393,43.611,42.829,42.048,41.266,40.484],
            "format": ".3f", "labelAlign": "left", "labelPadding": 0, "labelFontSize": 12, "labelColor": "#444444", "labelFont": "Roboto",
            "labelOverlap": false, "labelBound": false, "labelFlush": false, "ticks": false, "domain": false, "grid": false}},
        "y2": {"field": "high"},
        "color": {"condition": {"test": "datum.close>=datum.open", "value": "#04825a"}, "value": "#cf0a0a"}
      }
    },
    {
      "data": {"name": "candles"},
      "mark": {"type": "rule", "strokeWidth": 5.2, "strokeCap": "butt"},
      "encoding": {
        "y": {"field": "open", "type": "quantitative", "title": null, "scale": {"domain": [39.975, 55.728], "nice": false, "zero": false},
          "axis": {"orient": "right", "offset": -59, "values": [54.554,52.991,52.209,51.427,50.646,49.864,49.082,48.301,47.519,46.738,45.956,45.174,44.393,43.611,42.829,42.048,41.266,40.484],
            "format": ".3f", "labelAlign": "left", "labelPadding": 0, "labelFontSize": 12, "labelColor": "#444444", "labelFont": "Roboto",
            "labelOverlap": false, "labelBound": false, "labelFlush": false, "ticks": false, "domain": false, "grid": false}},
        "y2": {"field": "close"},
        "color": {"condition": {"test": "datum.close>=datum.open", "value": "#04825a"}, "value": "#cf0a0a"}
      }
    },
    {"data": {"name": "sma200"}, "mark": {"type": "line", "color": "#5a62b8", "strokeWidth": 1.2}},
    {"data": {"name": "sma50"}, "mark": {"type": "line", "color": "#2f9a75", "strokeWidth": 1.2}},
    {"data": {"name": "sma20"}, "mark": {"type": "line", "color": "#e5383b", "strokeWidth": 1.2}},
    {
      "data": {"values": [{"bar": 4.45, "bar2": 187.2, "price": 48.04, "price2": 41.77}]},
      "mark": {"type": "rect", "fillOpacity": 0, "stroke": "#fd7f2c", "strokeWidth": 3.4},
      "encoding": {"x2": {"field": "bar2"}, "y2": {"field": "price2"}}
    },
    {
      "data": {"values": [
        {"bar": 193.85, "bar2": 243.4, "price": 52.69, "price2": 55.645},
        {"bar": 210.5, "bar2": 269.9, "price": 43.894, "price2": 49.864}
      ]},
      "mark": {"type": "rule", "color": "#ed1c2e", "strokeWidth": 3.4},
      "encoding": {"x2": {"field": "bar2"}, "y2": {"field": "price2"}}
    },
    {
      "data": {"values": [
        {"bar": 255.9, "bar2": 265.6, "price": 53.38},
        {"bar": 256.4, "bar2": 267.0, "price": 50.754}
      ]},
      "mark": {"type": "rule", "color": "#ed1c24", "strokeWidth": 4.6, "strokeCap": "round"},
      "encoding": {"x2": {"field": "bar2"}}
    },
    {
      "data": {"name": "ellipses"},
      "mark": {"type": "line", "interpolate": "cardinal-closed", "color": "#3f48cc", "strokeWidth": 2.6},
      "encoding": {"detail": {"field": "id"}, "order": {"field": "step", "type": "quantitative"}}
    },
    {
      "data": {"values": [{"bar": 108.99, "bar2": 119.76, "price": 47.344, "price2": 45.93}]},
      "mark": {"type": "rect", "color": "#f93244", "cornerRadius": 1},
      "encoding": {"x2": {"field": "bar2"}, "y2": {"field": "price2"}}
    },
    {
      "data": {"values": [{"bar": 114.37, "price": 46.634}]},
      "mark": {"type": "point", "filled": true, "opacity": 1, "color": "white", "size": 3600,
        "shape": "M-0.93,-0.3L-0.19,-0.32L0.89,-0.58L0.38,-0.02L0.99,0.59L0.06,0.23L-0.32,0.37L-0.98,0.26L-0.38,-0.02Z"}
    },
    {
      "data": {"values": [{"bar": 121.6, "price": 46.392, "label": "xtb"}]},
      "mark": {"type": "text", "align": "left", "baseline": "alphabetic", "font": "Inter", "fontWeight": 900, "fontSize": 62, "color": "#000000"},
      "encoding": {"text": {"field": "label"}}
    },
    {
      "data": {"values": [{"bar": 121.82, "price": 46.102, "label": "online investing"}]},
      "mark": {"type": "text", "align": "left", "baseline": "alphabetic", "font": "Open Sans", "fontWeight": 300, "fontSize": 14.4, "color": "#111111"},
      "encoding": {"text": {"field": "label"}}
    },
    {
      "data": {"values": [{"bar": 280.2, "price": 53.79}]},
      "mark": {"type": "point", "filled": true, "opacity": 1, "color": "#46535e", "size": 3481,
        "shape": "M-1,0L-0.73,-0.31L1,-0.31L1,0.31L-0.73,0.31Z"}
    },
    {
      "data": {"values": [{"bar": 277.3, "price": 53.79, "label": "53.790"}]},
      "mark": {"type": "text", "align": "left", "baseline": "middle", "font": "Roboto", "fontSize": 12, "color": "#ffffff"},
      "encoding": {"text": {"field": "label"}}
    },
    {
      "data": {"values": [{"bar": 2.17, "price": 55.334, "label": "BAS.DE"}]},
      "mark": {"type": "text", "align": "left", "baseline": "middle", "font": "Roboto", "fontWeight": 700, "fontSize": 12, "color": "#3d4b57"},
      "encoding": {"text": {"field": "label"}}
    },
    {
      "data": {"values": [{"bar": 9.3, "price": 55.334, "label": "Aktie"}]},
      "mark": {"type": "text", "align": "left", "baseline": "middle", "font": "Roboto", "fontWeight": 500, "fontSize": 8.5, "color": "#8a9298"},
      "encoding": {"text": {"field": "label"}}
    },
    {
      "data": {"values": [{"bar": 20.71, "bar2": 27.37, "price": 55.52, "price2": 55.21}]},
      "mark": {"type": "rect", "fill": "#ffffff", "stroke": "#e2e2e2", "strokeWidth": 1, "cornerRadius": 2},
      "encoding": {"x2": {"field": "bar2"}, "y2": {"field": "price2"}}
    },
    {
      "data": {"values": [{"bar": 21.5, "price": 55.34, "label": "D1"}]},
      "mark": {"type": "text", "align": "left", "baseline": "middle", "font": "Roboto", "fontSize": 10, "color": "#666666"},
      "encoding": {"text": {"field": "label"}}
    },
    {
      "data": {"values": [{"bar": 14.2, "price": 55.386}, {"bar": 26.26, "price": 55.376}]},
      "mark": {"type": "point", "shape": "triangle-down", "filled": true, "opacity": 1, "size": 40, "color": "#999999"}
    },
    {
      "data": {"values": [
        {"bar": 0.74, "price": 41.217, "label": "☰"},
        {"bar": 0.74, "price": 40.913, "label": "☰"},
        {"bar": 0.74, "price": 40.623, "label": "☰"}
      ]},
      "mark": {"type": "text", "align": "center", "baseline": "middle", "font": "DejaVu Sans", "fontWeight": 700, "fontSize": 13, "color": "#b5b5b5"},
      "encoding": {"text": {"field": "label"}}
    },
    {
      "data": {"values": [
        {"bar": 2.65, "price": 41.217, "label": "✖"},
        {"bar": 2.65, "price": 40.913, "label": "✖"},
        {"bar": 2.65, "price": 40.623, "label": "✖"}
      ]},
      "mark": {"type": "text", "align": "center", "baseline": "middle", "font": "DejaVu Sans", "fontSize": 12, "color": "#b5b5b5"},
      "encoding": {"text": {"field": "label"}}
    },
    {
      "data": {"values": [
        {"bar": 3.91, "price": 41.217, "label": "SMA [200, 0] 46.276"},
        {"bar": 3.91, "price": 40.913, "label": "SMA [50, 0] 50.731"},
        {"bar": 3.91, "price": 40.623, "label": "SMA [20, 0] 53.418"}
      ]},
      "mark": {"type": "text", "align": "left", "baseline": "middle", "font": "Roboto", "fontSize": 10.5, "color": "#8a8a8a"},
      "encoding": {"text": {"field": "label"}}
    },
    {
      "data": {"values": [{"bar": 267.3, "price": 40.907, "label": "06"}, {"bar": 271.5, "price": 40.907, "label": "20"}]},
      "mark": {"type": "text", "align": "left", "baseline": "middle", "font": "Roboto", "fontSize": 14, "color": "#f7941d"},
      "encoding": {"text": {"field": "label"}}
    },
    {
      "data": {"values": [{"bar": 269.8, "price": 40.907, "label": "h"}, {"bar": 274.1, "price": 40.907, "label": "m"}]},
      "mark": {"type": "text", "align": "left", "baseline": "middle", "font": "Roboto", "fontSize": 14, "color": "#bdbdbd"},
      "encoding": {"text": {"field": "label"}}
    }
  ]
}
